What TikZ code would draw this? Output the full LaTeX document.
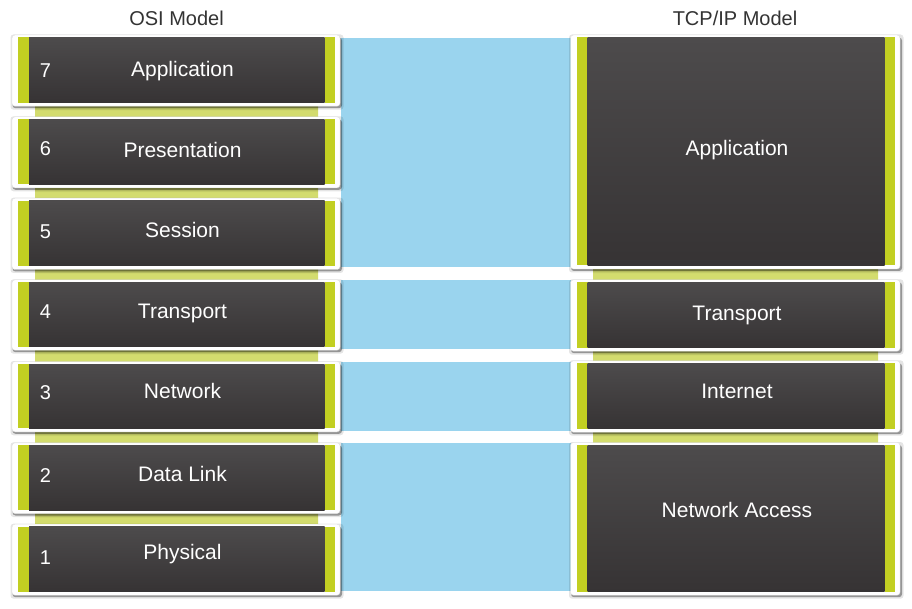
\documentclass[tikz,border=0pt]{standalone}
\usepackage{fontspec}
\setmainfont{Liberation Sans}
\definecolor{ygreen}{HTML}{C2CF22}
\definecolor{stripgreen}{HTML}{D3DC6E}
\definecolor{skyblue}{HTML}{9AD4EE}
\definecolor{darktop}{HTML}{4D4B4C}
\definecolor{darkbot}{HTML}{363334}
\definecolor{titlegray}{HTML}{333333}
\newcommand\layercard[4]{%
  \fill[black,opacity=.10,rounded corners=3pt] (#1-1.5,#3-3) rectangle (#2+3.5,#4+7);
  \fill[black,opacity=.35,rounded corners=3pt] (#1+0.5,#3) rectangle (#2+2,#4+5.5);
  \fill[white,draw=black!12,line width=0.4pt,rounded corners=3pt] (#1,#3-2.5) rectangle (#2,#4+3.5);
  \fill[ygreen] (#1+6,#3) rectangle (#1+17,#4);
  \shade[top color=darktop,bottom color=darkbot] (#1+17,#3) rectangle (#2-15.5,#4);
  \fill[ygreen] (#2-15.5,#3) rectangle (#2-5.5,#4);
}
\newcommand\layerstrip[3]{%
  \shade[top color=stripgreen!80!black,bottom color=stripgreen,middle color=stripgreen] (#1+23,#3) rectangle (#2-22,#3+16);
}
\begin{document}
\begin{tikzpicture}[x=1pt,y=-1pt,
  lbl/.style={text=white,font=\fontsize{21}{25}\selectfont,anchor=base,inner sep=0pt},
  num/.style={text=white,font=\fontsize{20}{24}\selectfont,anchor=base,inner sep=0pt},
  ttl/.style={text=titlegray,font=\fontsize{20}{24}\selectfont,anchor=base,inner sep=0pt}]
\useasboundingbox (0,0) rectangle (912,609);
\fill[white] (0,0) rectangle (912,609);
% blue bands
\fill[skyblue] (341,38) rectangle (571,267.5);
\fill[skyblue] (341,280.5) rectangle (571,349.3);
\fill[skyblue] (341,361.7) rectangle (571,431);
\fill[skyblue] (341,443.3) rectangle (571,590.5);
% strips behind cards
\layerstrip{12}{340}{102.7}
\layerstrip{12}{340}{184.3}
\layerstrip{12}{340}{266}
\layerstrip{12}{340}{346.7}
\layerstrip{12}{340}{428.3}
\layerstrip{12}{340}{510}
\layerstrip{570.5}{900}{265.5}
\layerstrip{570.5}{900}{347.7}
\layerstrip{570.5}{900}{428.7}
% left cards
\layercard{12}{340}{37.5}{102.7}
\layercard{12}{340}{119.3}{184.3}
\layercard{12}{340}{200.7}{266}
\layercard{12}{340}{282.3}{346.7}
\layercard{12}{340}{364}{428.3}
\layercard{12}{340}{445.3}{510}
\layercard{12}{340}{526.7}{591.7}
% right cards
\layercard{570.5}{900}{37.5}{265.5}
\layercard{570.5}{900}{282.3}{347.7}
\layercard{570.5}{900}{363.3}{428.7}
\layercard{570.5}{900}{445}{591.7}
% titles
\node[ttl] (osi) at (176.5,26) {OSI Model};
\node[ttl] (tcp) at (735,26) {TCP/IP Model};
% left labels
\node[num] (n7) at (45.5,77.5) {7};
\node[num] (n6) at (45.5,155.5) {6};
\node[num] (n5) at (45.5,238.5) {5};
\node[num] (n4) at (45.5,318.5) {4};
\node[num] (n3) at (45.5,399.5) {3};
\node[num] (n2) at (45.5,482.5) {2};
\node[num] (n1) at (45.5,564.5) {1};
\node[lbl] (l7) at (182.5,76.7) {Application};
\node[lbl] (l6) at (182.5,157.5) {Presentation};
\node[lbl] (l5) at (182.5,237.5) {Session};
\node[lbl] (l4) at (182.5,318.5) {Transport};
\node[lbl] (l3) at (182.5,398.5) {Network};
\node[lbl] (l2) at (182.5,481.5) {Data Link};
\node[lbl] (l1) at (182.5,559.5) {Physical};
% right labels
\node[lbl] (r4) at (737,155.5) {Application};
\node[lbl] (r3) at (737,320.5) {Transport};
\node[lbl] (r2) at (737,398.5) {Internet};
\node[lbl] (r1) at (737,517.5) {Network Access};
\end{tikzpicture}
\end{document}
